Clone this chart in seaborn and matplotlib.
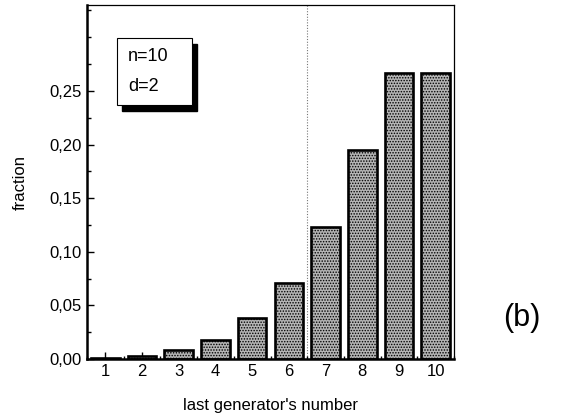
import numpy as np
import pandas as pd
import matplotlib
matplotlib.use("Agg")
import matplotlib.pyplot as plt
import seaborn as sns
from matplotlib.ticker import FuncFormatter, MultipleLocator
from matplotlib.patches import Rectangle

generator = [1, 2, 3, 4, 5, 6, 7, 8, 9, 10]
fraction = [0.001, 0.003, 0.008, 0.018, 0.038, 0.071, 0.123, 0.195, 0.267, 0.267]
y_ticks = [0.00, 0.05, 0.10, 0.15, 0.20, 0.25]
box_lines = ["n=10", "d=2"]
panel_label = "(b)"

sns.set_style("ticks")
plt.rcParams["font.family"] = ["Liberation Sans", "DejaVu Sans"]
plt.rcParams["hatch.color"] = "#2a2a2a"
plt.rcParams["hatch.linewidth"] = 0.7
plt.rcParams["text.color"] = "black"
plt.rcParams["axes.labelcolor"] = "black"
plt.rcParams["xtick.color"] = "black"
plt.rcParams["ytick.color"] = "black"
plt.rcParams["axes.edgecolor"] = "black"

df = pd.DataFrame({"gen": generator, "frac": fraction})

fig = plt.figure(figsize=(5.83, 4.19), dpi=100)
ax = fig.add_axes([0.149, 0.143, 0.630, 0.845])

sns.barplot(data=df, x="gen", y="frac", native_scale=True, width=0.78,
            color="#b4b4b4", edgecolor="black", linewidth=1.9,
            hatch="......", saturation=1, ax=ax)

ax.axvline(6.5, color="#777777", lw=0.8, ls=(0, (1, 1.5)), zorder=0)

ax.set_xlim(0.5, 10.5)
ax.set_ylim(0, 0.33)
ax.set_xticks(generator)
ax.set_yticks(y_ticks)
ax.yaxis.set_minor_locator(MultipleLocator(0.025))
ax.xaxis.set_minor_locator(MultipleLocator(0.5))
ax.yaxis.set_major_formatter(FuncFormatter(lambda v, p: f"{v:.2f}".replace(".", ",")))
ax.tick_params(which="both", direction="in", labelsize=12, width=1)
ax.tick_params(which="major", length=5)
ax.tick_params(which="minor", length=3)
ax.tick_params(axis="x", which="minor", length=2)

for side in ["left", "bottom"]:
    ax.spines[side].set_linewidth(1.8)
for side in ["top", "right"]:
    ax.spines[side].set_linewidth(0.9)

ax.set_xlabel("last generator's number", fontsize=12, labelpad=14)
ax.set_ylabel("fraction", fontsize=12, labelpad=16)

# text box with drop shadow
bx, by, bw, bh = 0.082, 0.718, 0.204, 0.189
ax.add_patch(Rectangle((bx + 0.014, by - 0.016), bw, bh, transform=ax.transAxes,
                       facecolor="black", edgecolor="black", zorder=4))
ax.add_patch(Rectangle((bx, by), bw, bh, transform=ax.transAxes,
                       facecolor="white", edgecolor="black", lw=0.8, zorder=5))
ax.text(bx + 0.03, by + bh * 0.72, box_lines[0], transform=ax.transAxes,
        fontsize=13, va="center", zorder=6)
ax.text(bx + 0.03, by + bh * 0.27, box_lines[1], transform=ax.transAxes,
        fontsize=13, va="center", zorder=6)

fig.text(0.895, 0.24, panel_label, fontsize=22, ha="center", va="center")

fig.savefig("out.png", dpi=100)
